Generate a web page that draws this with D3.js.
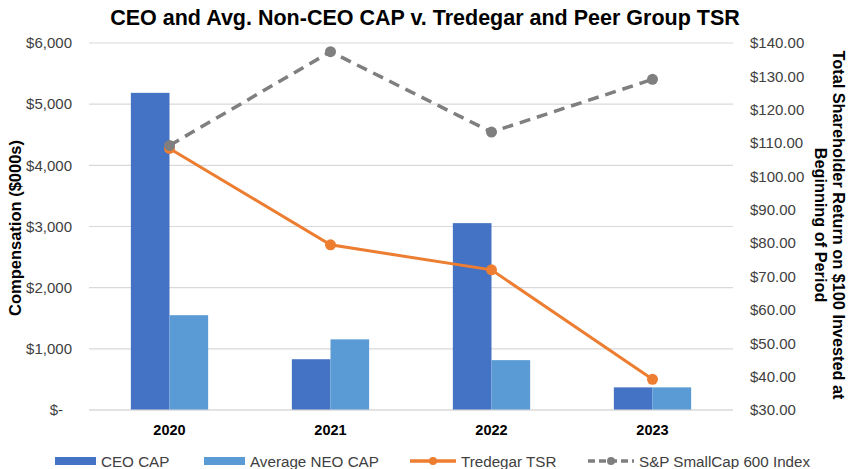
<!DOCTYPE html>
<html>
<head>
<meta charset="utf-8">
<script src="https://cdn.jsdelivr.net/npm/d3@7"></script>
<style>
  body { margin: 0; background: #fff; }
  svg { font-family: "Liberation Sans", Arial, sans-serif; }
</style>
</head>
<body>
<svg id="chart"></svg>
<script>
var years = ['2020', '2021', '2022', '2023'];
var ceoCap = [5185, 830, 3055, 370];
var neoCap = [1550, 1155, 815, 370];
var tredegarTsr = [108.4, 79.5, 72.0, 39.2];
var spSmallCap = [109.3, 137.4, 113.3, 129.1];
var leftTicks = [0, 1000, 2000, 3000, 4000, 5000, 6000];
var rightTicks = [30, 40, 50, 60, 70, 80, 90, 100, 110, 120, 130, 140];

var width = 850;
var height = 469;
var margin = {top: 43, right: 117, bottom: 59, left: 89};

var svg = d3.select('#chart')
  .attr('width', width)
  .attr('height', height);

var x = d3.scaleBand()
  .domain(years)
  .range([margin.left, width - margin.right]);

var yLeft = d3.scaleLinear()
  .domain([0, 6000])
  .range([height - margin.bottom, margin.top]);

var yRight = d3.scaleLinear()
  .domain([30, 140])
  .range([height - margin.bottom, margin.top]);

var barW = x.bandwidth() * 0.24;

// gridlines
svg.append('g')
  .selectAll('line')
  .data(leftTicks)
  .enter()
    .append('line')
    .attr('x1', margin.left)
    .attr('x2', width - margin.right)
    .attr('y1', function (d) { return yLeft(d); })
    .attr('y2', function (d) { return yLeft(d); })
    .attr('stroke', '#d9d9d9')
    .attr('stroke-width', 1.2);

// left axis
var leftAxis = svg.append('g')
  .attr('transform', 'translate(' + (margin.left - 17) + ',0)')
  .call(d3.axisLeft(yLeft).tickValues(leftTicks).tickSize(0).tickPadding(0)
    .tickFormat(function (d) { return d === 0 ? '$-' : '$' + d3.format(',')(d); }));
leftAxis.select('.domain').remove();
leftAxis.selectAll('text')
  .attr('font-size', 15)
  .attr('fill', '#404040')
  .attr('font-family', '"Liberation Sans", Arial, sans-serif')
  .attr('dx', function (d) { return d === 0 ? -9 : 0; });

// right axis
var rightAxis = svg.append('g')
  .attr('transform', 'translate(' + 750 + ',0)')
  .call(d3.axisRight(yRight).tickValues(rightTicks).tickSize(0).tickPadding(0)
    .tickFormat(function (d) { return '$' + d3.format('.2f')(d); }));
rightAxis.select('.domain').remove();
rightAxis.selectAll('text')
  .attr('font-size', 15)
  .attr('fill', '#404040')
  .attr('font-family', '"Liberation Sans", Arial, sans-serif');

// bars
svg.append('g')
  .selectAll('rect')
  .data(ceoCap)
  .enter()
    .append('rect')
    .attr('x', function (d, i) { return x(years[i]) + x.bandwidth() / 2 - barW; })
    .attr('y', function (d) { return yLeft(d); })
    .attr('width', barW)
    .attr('height', function (d) { return yLeft(0) - yLeft(d); })
    .attr('fill', '#4472C4');

svg.append('g')
  .selectAll('rect')
  .data(neoCap)
  .enter()
    .append('rect')
    .attr('x', function (d, i) { return x(years[i]) + x.bandwidth() / 2; })
    .attr('y', function (d) { return yLeft(d); })
    .attr('width', barW)
    .attr('height', function (d) { return yLeft(0) - yLeft(d); })
    .attr('fill', '#5B9BD5');

// baseline
svg.append('line')
  .attr('x1', margin.left)
  .attr('x2', width - margin.right)
  .attr('y1', yLeft(0))
  .attr('y2', yLeft(0))
  .attr('stroke', '#d9d9d9')
  .attr('stroke-width', 1.2);

// lines
var cx = function (d, i) { return x(years[i]) + x.bandwidth() / 2; };

function drawLine(values, color, dash) {
  var line = d3.line()
    .x(cx)
    .y(function (d) { return yRight(d); });
  svg.append('path')
    .datum(values)
    .attr('d', line)
    .attr('fill', 'none')
    .attr('stroke', color)
    .attr('stroke-width', dash ? 3.5 : 3)
    .attr('stroke-dasharray', dash ? '11,7' : null);
  svg.append('g')
    .selectAll('circle')
    .data(values)
    .enter()
      .append('circle')
      .attr('cx', cx)
      .attr('cy', function (d) { return yRight(d); })
      .attr('r', 5.5)
      .attr('fill', color);
}
drawLine(tredegarTsr, '#ED7D31', false);
drawLine(spSmallCap, '#7F7F7F', true);

// year labels
svg.append('g')
  .selectAll('text')
  .data(years)
  .enter()
    .append('text')
    .attr('x', function (d) { return x(d) + x.bandwidth() / 2; })
    .attr('y', 435)
    .attr('text-anchor', 'middle')
    .attr('font-size', 14.5)
    .attr('font-weight', 'bold')
    .attr('fill', '#000')
    .text(function (d) { return d; });

// title
svg.append('text')
  .attr('x', 425)
  .attr('y', 25)
  .attr('text-anchor', 'middle')
  .attr('font-size', 21.5)
  .attr('font-weight', 'bold')
  .text('CEO and Avg. Non-CEO CAP v. Tredegar and Peer Group TSR');

// axis titles
svg.append('text')
  .attr('transform', 'translate(21,228) rotate(-90)')
  .attr('text-anchor', 'middle')
  .attr('font-size', 16.5)
  .attr('font-weight', 'bold')
  .text('Compensation ($000s)');

svg.append('text')
  .attr('transform', 'translate(833,225) rotate(90)')
  .attr('text-anchor', 'middle')
  .attr('font-size', 16.3)
  .attr('font-weight', 'bold')
  .text('Total Shareholder Return on $100 Invested at');

svg.append('text')
  .attr('transform', 'translate(815,225) rotate(90)')
  .attr('text-anchor', 'middle')
  .attr('font-size', 16.3)
  .attr('font-weight', 'bold')
  .text('Beginning of Period');

// legend
var legendItems = [
  {name: 'CEO CAP', color: '#4472C4', type: 'bar', x: 55},
  {name: 'Average NEO CAP', color: '#5B9BD5', type: 'bar', x: 204},
  {name: 'Tredegar TSR', color: '#ED7D31', type: 'line', x: 410},
  {name: 'S&P SmallCap 600 Index', color: '#7F7F7F', type: 'dash', x: 588}
];
var legend = svg.append('g')
  .selectAll('g')
  .data(legendItems)
  .enter()
    .append('g')
    .attr('transform', function (d) { return 'translate(' + d.x + ',461)'; });

legend.filter(function (d) { return d.type === 'bar'; })
  .append('rect')
  .attr('x', 0)
  .attr('y', -4)
  .attr('width', 41)
  .attr('height', 8)
  .attr('fill', function (d) { return d.color; });

legend.filter(function (d) { return d.type !== 'bar'; })
  .append('line')
  .attr('x1', 0)
  .attr('x2', 46)
  .attr('stroke', function (d) { return d.color; })
  .attr('stroke-width', 3.5)
  .attr('stroke-dasharray', function (d) { return d.type === 'dash' ? '7,4' : null; });

legend.filter(function (d) { return d.type !== 'bar'; })
  .append('circle')
  .attr('cx', 23)
  .attr('r', 4)
  .attr('fill', function (d) { return d.color; });

legend.append('text')
  .attr('x', function (d) { return d.type === 'bar' ? 46 : 51; })
  .attr('y', 5.5)
  .attr('font-size', 15.2)
  .attr('fill', '#404040')
  .text(function (d) { return d.name; });
</script>
</body>
</html>
